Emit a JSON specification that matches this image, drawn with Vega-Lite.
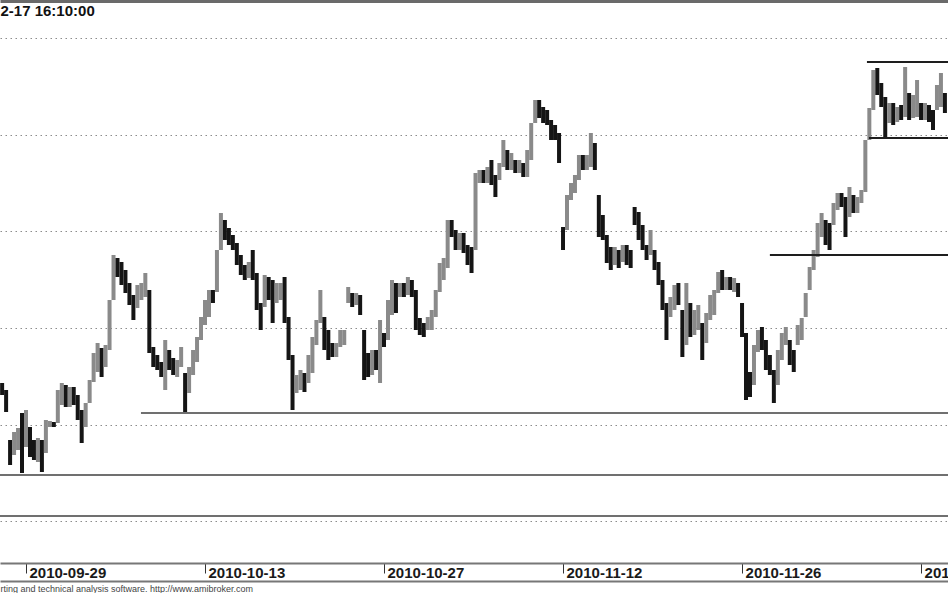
{
  "$schema": "https://vega.github.io/schema/vega-lite/v6.json",
  "width": 948,
  "height": 563,
  "autosize": "none",
  "padding": {"left": 0, "top": 0, "right": 0, "bottom": 30},
  "background": "white",
  "config": {"view": {"stroke": null}, "font": "Liberation Sans"},
  "datasets": {
    "bars": [
      {"n":-12,"o":2628.5,"h":2628.5,"l":2622.5,"c":2622.5},
      {"n":-10,"o":2625,"h":2625,"l":2614,"c":2614},
      {"n":-8,"o":2600,"h":2600,"l":2587.5,"c":2587.5},
      {"n":-6,"o":2592.5,"h":2604,"l":2592.5,"c":2604},
      {"n":-4,"o":2595,"h":2606,"l":2595,"c":2606},
      {"n":-2,"o":2613.5,"h":2613.5,"l":2583.5,"c":2583.5},
      {"n":0,"o":2596.5,"h":2615,"l":2596.5,"c":2615},
      {"n":2,"o":2606.5,"h":2606.5,"l":2591.5,"c":2591.5},
      {"n":4,"o":2600,"h":2600,"l":2590,"c":2590},
      {"n":6,"o":2589,"h":2601,"l":2589,"c":2601},
      {"n":8,"o":2600,"h":2600,"l":2584,"c":2584},
      {"n":10,"o":2593.5,"h":2610,"l":2593.5,"c":2610},
      {"n":12,"o":2606.5,"h":2609.5,"l":2606.5,"c":2609.5},
      {"n":14,"o":2609,"h":2609,"l":2606.5,"c":2606.5},
      {"n":16,"o":2608.5,"h":2625,"l":2608.5,"c":2625},
      {"n":18,"o":2617.5,"h":2628.5,"l":2617.5,"c":2628.5},
      {"n":20,"o":2627.5,"h":2627.5,"l":2616.5,"c":2616.5},
      {"n":22,"o":2616.5,"h":2626.5,"l":2616.5,"c":2626.5},
      {"n":24,"o":2626.5,"h":2626.5,"l":2617.5,"c":2617.5},
      {"n":26,"o":2622.5,"h":2622.5,"l":2610,"c":2610},
      {"n":28,"o":2615,"h":2615,"l":2598.5,"c":2598.5},
      {"n":30,"o":2606.5,"h":2618.5,"l":2606.5,"c":2618.5},
      {"n":32,"o":2618.5,"h":2630,"l":2618.5,"c":2630},
      {"n":34,"o":2629,"h":2643.5,"l":2629,"c":2643.5},
      {"n":36,"o":2634,"h":2648.5,"l":2634,"c":2648.5},
      {"n":38,"o":2646,"h":2646,"l":2631.5,"c":2631.5},
      {"n":40,"o":2636.5,"h":2647.5,"l":2636.5,"c":2647.5},
      {"n":42,"o":2645,"h":2670,"l":2645,"c":2670},
      {"n":44,"o":2670,"h":2692.5,"l":2670,"c":2692.5},
      {"n":46,"o":2691,"h":2691,"l":2681.5,"c":2681.5},
      {"n":48,"o":2689,"h":2689,"l":2677.5,"c":2677.5},
      {"n":50,"o":2685,"h":2685,"l":2673.5,"c":2673.5},
      {"n":52,"o":2678.5,"h":2678.5,"l":2667.5,"c":2667.5},
      {"n":54,"o":2672.5,"h":2672.5,"l":2660,"c":2660},
      {"n":56,"o":2666,"h":2677.5,"l":2666,"c":2677.5},
      {"n":58,"o":2670,"h":2678.5,"l":2670,"c":2678.5},
      {"n":60,"o":2671.5,"h":2683.5,"l":2671.5,"c":2683.5},
      {"n":62,"o":2675,"h":2675,"l":2643.5,"c":2643.5},
      {"n":64,"o":2646.5,"h":2646.5,"l":2636.5,"c":2636.5},
      {"n":66,"o":2642.5,"h":2642.5,"l":2635,"c":2635},
      {"n":68,"o":2639,"h":2639,"l":2631.5,"c":2631.5},
      {"n":70,"o":2625,"h":2650,"l":2625,"c":2650},
      {"n":72,"o":2645,"h":2645,"l":2635,"c":2635},
      {"n":74,"o":2641,"h":2641,"l":2632.5,"c":2632.5},
      {"n":76,"o":2631.5,"h":2640,"l":2631.5,"c":2640},
      {"n":78,"o":2636.5,"h":2646.5,"l":2636.5,"c":2646.5},
      {"n":80,"o":2633.5,"h":2633.5,"l":2613.5,"c":2613.5},
      {"n":82,"o":2623.5,"h":2636.5,"l":2623.5,"c":2636.5},
      {"n":84,"o":2632.5,"h":2645,"l":2632.5,"c":2645},
      {"n":86,"o":2639,"h":2651.5,"l":2639,"c":2651.5},
      {"n":88,"o":2650,"h":2661.5,"l":2650,"c":2661.5},
      {"n":90,"o":2657.5,"h":2670,"l":2657.5,"c":2670},
      {"n":92,"o":2661.5,"h":2675,"l":2661.5,"c":2675},
      {"n":94,"o":2675,"h":2675,"l":2668.5,"c":2668.5},
      {"n":96,"o":2674,"h":2695,"l":2674,"c":2695},
      {"n":98,"o":2695,"h":2713.5,"l":2695,"c":2713.5},
      {"n":100,"o":2710,"h":2710,"l":2700,"c":2700},
      {"n":102,"o":2706,"h":2706,"l":2697.5,"c":2697.5},
      {"n":104,"o":2702.5,"h":2702.5,"l":2695,"c":2695},
      {"n":106,"o":2698.5,"h":2698.5,"l":2687.5,"c":2687.5},
      {"n":108,"o":2692.5,"h":2692.5,"l":2682.5,"c":2682.5},
      {"n":110,"o":2687.5,"h":2687.5,"l":2680,"c":2680},
      {"n":112,"o":2681,"h":2689,"l":2681,"c":2689},
      {"n":114,"o":2695,"h":2695,"l":2680,"c":2680},
      {"n":116,"o":2683.5,"h":2683.5,"l":2665,"c":2665},
      {"n":118,"o":2668.5,"h":2668.5,"l":2655,"c":2655},
      {"n":120,"o":2666.5,"h":2682.5,"l":2666.5,"c":2682.5},
      {"n":122,"o":2681.5,"h":2681.5,"l":2670,"c":2670},
      {"n":124,"o":2680,"h":2680,"l":2658.5,"c":2658.5},
      {"n":126,"o":2668.5,"h":2678.5,"l":2668.5,"c":2678.5},
      {"n":128,"o":2670,"h":2678.5,"l":2670,"c":2678.5},
      {"n":130,"o":2681.5,"h":2681.5,"l":2658.5,"c":2658.5},
      {"n":132,"o":2661.5,"h":2661.5,"l":2640,"c":2640},
      {"n":134,"o":2642.5,"h":2642.5,"l":2615,"c":2615},
      {"n":136,"o":2623.5,"h":2632.5,"l":2623.5,"c":2632.5},
      {"n":138,"o":2625,"h":2635,"l":2625,"c":2635},
      {"n":140,"o":2633.5,"h":2633.5,"l":2624,"c":2624},
      {"n":142,"o":2628.5,"h":2642.5,"l":2628.5,"c":2642.5},
      {"n":144,"o":2633.5,"h":2651.5,"l":2633.5,"c":2651.5},
      {"n":146,"o":2647.5,"h":2660,"l":2647.5,"c":2660},
      {"n":148,"o":2658.5,"h":2675,"l":2658.5,"c":2675},
      {"n":150,"o":2661.5,"h":2661.5,"l":2645,"c":2645},
      {"n":152,"o":2655,"h":2655,"l":2640,"c":2640},
      {"n":154,"o":2648.5,"h":2648.5,"l":2641.5,"c":2641.5},
      {"n":156,"o":2641.5,"h":2648.5,"l":2641.5,"c":2648.5},
      {"n":158,"o":2646.5,"h":2655,"l":2646.5,"c":2655},
      {"n":160,"o":2647.5,"h":2655,"l":2647.5,"c":2655},
      {"n":162,"o":2668.5,"h":2676.5,"l":2668.5,"c":2676.5},
      {"n":164,"o":2673.5,"h":2673.5,"l":2666.5,"c":2666.5},
      {"n":166,"o":2667.5,"h":2673.5,"l":2667.5,"c":2673.5},
      {"n":168,"o":2672.5,"h":2672.5,"l":2662.5,"c":2662.5},
      {"n":170,"o":2655,"h":2655,"l":2630,"c":2630},
      {"n":172,"o":2643.5,"h":2643.5,"l":2631.5,"c":2631.5},
      {"n":174,"o":2632.5,"h":2645,"l":2632.5,"c":2645},
      {"n":176,"o":2645,"h":2645,"l":2635,"c":2635},
      {"n":178,"o":2628.5,"h":2660,"l":2628.5,"c":2660},
      {"n":180,"o":2653.5,"h":2653.5,"l":2646.5,"c":2646.5},
      {"n":182,"o":2650,"h":2670,"l":2650,"c":2670},
      {"n":184,"o":2662.5,"h":2680,"l":2662.5,"c":2680},
      {"n":186,"o":2678.5,"h":2678.5,"l":2663.5,"c":2663.5},
      {"n":188,"o":2671.5,"h":2678.5,"l":2671.5,"c":2678.5},
      {"n":190,"o":2678.5,"h":2678.5,"l":2671.5,"c":2671.5},
      {"n":192,"o":2672.5,"h":2681.5,"l":2672.5,"c":2681.5},
      {"n":194,"o":2680,"h":2680,"l":2671.5,"c":2671.5},
      {"n":196,"o":2675,"h":2675,"l":2655,"c":2655},
      {"n":198,"o":2661,"h":2661,"l":2652.5,"c":2652.5},
      {"n":200,"o":2658.5,"h":2658.5,"l":2651.5,"c":2651.5},
      {"n":202,"o":2655,"h":2661.5,"l":2655,"c":2661.5},
      {"n":204,"o":2655,"h":2665,"l":2655,"c":2665},
      {"n":206,"o":2661.5,"h":2675,"l":2661.5,"c":2675},
      {"n":208,"o":2674,"h":2688.5,"l":2674,"c":2688.5},
      {"n":210,"o":2680,"h":2691,"l":2680,"c":2691},
      {"n":212,"o":2686,"h":2710,"l":2686,"c":2710},
      {"n":214,"o":2710,"h":2710,"l":2701.5,"c":2701.5},
      {"n":216,"o":2705,"h":2705,"l":2695,"c":2695},
      {"n":218,"o":2695,"h":2703.5,"l":2695,"c":2703.5},
      {"n":220,"o":2703.5,"h":2703.5,"l":2693.5,"c":2693.5},
      {"n":222,"o":2697.5,"h":2697.5,"l":2687.5,"c":2687.5},
      {"n":224,"o":2696.5,"h":2696.5,"l":2683.5,"c":2683.5},
      {"n":226,"o":2695,"h":2733.5,"l":2695,"c":2733.5},
      {"n":228,"o":2728.5,"h":2735,"l":2728.5,"c":2735},
      {"n":230,"o":2735,"h":2735,"l":2728.5,"c":2728.5},
      {"n":232,"o":2728.5,"h":2736.5,"l":2728.5,"c":2736.5},
      {"n":234,"o":2740,"h":2740,"l":2727.5,"c":2727.5},
      {"n":236,"o":2732.5,"h":2732.5,"l":2721.5,"c":2721.5},
      {"n":238,"o":2730,"h":2738.5,"l":2730,"c":2738.5},
      {"n":240,"o":2736.5,"h":2750,"l":2736.5,"c":2750},
      {"n":242,"o":2745,"h":2745,"l":2735,"c":2735},
      {"n":244,"o":2735,"h":2743.5,"l":2735,"c":2743.5},
      {"n":246,"o":2740,"h":2740,"l":2733.5,"c":2733.5},
      {"n":248,"o":2733.5,"h":2740,"l":2733.5,"c":2740},
      {"n":250,"o":2738.5,"h":2738.5,"l":2731.5,"c":2731.5},
      {"n":252,"o":2731.5,"h":2745,"l":2731.5,"c":2745},
      {"n":254,"o":2740,"h":2758.5,"l":2740,"c":2758.5},
      {"n":256,"o":2758.5,"h":2770,"l":2758.5,"c":2770},
      {"n":258,"o":2770,"h":2770,"l":2761,"c":2761},
      {"n":260,"o":2766.5,"h":2766.5,"l":2758.5,"c":2758.5},
      {"n":262,"o":2765,"h":2765,"l":2757.5,"c":2757.5},
      {"n":264,"o":2760,"h":2760,"l":2750,"c":2750},
      {"n":266,"o":2757.5,"h":2757.5,"l":2750,"c":2750},
      {"n":268,"o":2753.5,"h":2753.5,"l":2738.5,"c":2738.5},
      {"n":270,"o":2706.5,"h":2706.5,"l":2695,"c":2695},
      {"n":272,"o":2705,"h":2722.5,"l":2705,"c":2722.5},
      {"n":274,"o":2720,"h":2728.5,"l":2720,"c":2728.5},
      {"n":276,"o":2723.5,"h":2732.5,"l":2723.5,"c":2732.5},
      {"n":278,"o":2730,"h":2742.5,"l":2730,"c":2742.5},
      {"n":280,"o":2742.5,"h":2742.5,"l":2735,"c":2735},
      {"n":282,"o":2735,"h":2742.5,"l":2735,"c":2742.5},
      {"n":284,"o":2736.5,"h":2753.5,"l":2736.5,"c":2753.5},
      {"n":286,"o":2748.5,"h":2748.5,"l":2735,"c":2735},
      {"n":288,"o":2722.5,"h":2722.5,"l":2701.5,"c":2701.5},
      {"n":290,"o":2712.5,"h":2712.5,"l":2700,"c":2700},
      {"n":292,"o":2702.5,"h":2702.5,"l":2688.5,"c":2688.5},
      {"n":294,"o":2696.5,"h":2696.5,"l":2685,"c":2685},
      {"n":296,"o":2687.5,"h":2696.5,"l":2687.5,"c":2696.5},
      {"n":298,"o":2695,"h":2695,"l":2686,"c":2686},
      {"n":300,"o":2689,"h":2697.5,"l":2689,"c":2697.5},
      {"n":302,"o":2697.5,"h":2697.5,"l":2687.5,"c":2687.5},
      {"n":304,"o":2695,"h":2695,"l":2686,"c":2686},
      {"n":306,"o":2716.5,"h":2716.5,"l":2707.5,"c":2707.5},
      {"n":308,"o":2714,"h":2714,"l":2700,"c":2700},
      {"n":310,"o":2707.5,"h":2707.5,"l":2695,"c":2695},
      {"n":312,"o":2697.5,"h":2697.5,"l":2690,"c":2690},
      {"n":314,"o":2692.5,"h":2705,"l":2692.5,"c":2705},
      {"n":316,"o":2695,"h":2695,"l":2685,"c":2685},
      {"n":318,"o":2689,"h":2689,"l":2677.5,"c":2677.5},
      {"n":320,"o":2680,"h":2680,"l":2665,"c":2665},
      {"n":322,"o":2668.5,"h":2668.5,"l":2650,"c":2650},
      {"n":324,"o":2661.5,"h":2671.5,"l":2661.5,"c":2671.5},
      {"n":326,"o":2665,"h":2677.5,"l":2665,"c":2677.5},
      {"n":328,"o":2678.5,"h":2678.5,"l":2667.5,"c":2667.5},
      {"n":330,"o":2665,"h":2665,"l":2641.5,"c":2641.5},
      {"n":332,"o":2647.5,"h":2678.5,"l":2647.5,"c":2678.5},
      {"n":334,"o":2668.5,"h":2668.5,"l":2651.5,"c":2651.5},
      {"n":336,"o":2652.5,"h":2665,"l":2652.5,"c":2665},
      {"n":338,"o":2655,"h":2667.5,"l":2655,"c":2667.5},
      {"n":340,"o":2658.5,"h":2658.5,"l":2640,"c":2640},
      {"n":342,"o":2648.5,"h":2663.5,"l":2648.5,"c":2663.5},
      {"n":344,"o":2660,"h":2672.5,"l":2660,"c":2672.5},
      {"n":346,"o":2662.5,"h":2675,"l":2662.5,"c":2675},
      {"n":348,"o":2673.5,"h":2684,"l":2673.5,"c":2684},
      {"n":350,"o":2685,"h":2685,"l":2675,"c":2675},
      {"n":352,"o":2675,"h":2681.5,"l":2675,"c":2681.5},
      {"n":354,"o":2681.5,"h":2681.5,"l":2675,"c":2675},
      {"n":356,"o":2674,"h":2681,"l":2674,"c":2681},
      {"n":358,"o":2678.5,"h":2678.5,"l":2671.5,"c":2671.5},
      {"n":360,"o":2668.5,"h":2668.5,"l":2651.5,"c":2651.5},
      {"n":362,"o":2653.5,"h":2653.5,"l":2620,"c":2620},
      {"n":364,"o":2634,"h":2634,"l":2621.5,"c":2621.5},
      {"n":366,"o":2627.5,"h":2647.5,"l":2627.5,"c":2647.5},
      {"n":368,"o":2644,"h":2655,"l":2644,"c":2655},
      {"n":370,"o":2656.5,"h":2656.5,"l":2645,"c":2645},
      {"n":372,"o":2650,"h":2650,"l":2635,"c":2635},
      {"n":374,"o":2642.5,"h":2642.5,"l":2632.5,"c":2632.5},
      {"n":376,"o":2635,"h":2635,"l":2618.5,"c":2618.5},
      {"n":378,"o":2627.5,"h":2645,"l":2627.5,"c":2645},
      {"n":380,"o":2640,"h":2653.5,"l":2640,"c":2653.5},
      {"n":382,"o":2647.5,"h":2656.5,"l":2647.5,"c":2656.5},
      {"n":384,"o":2650,"h":2650,"l":2637.5,"c":2637.5},
      {"n":386,"o":2645,"h":2645,"l":2634,"c":2634},
      {"n":388,"o":2647.5,"h":2657.5,"l":2647.5,"c":2657.5},
      {"n":390,"o":2650,"h":2661,"l":2650,"c":2661},
      {"n":392,"o":2661.5,"h":2673.5,"l":2661.5,"c":2673.5},
      {"n":394,"o":2675,"h":2686.5,"l":2675,"c":2686.5},
      {"n":396,"o":2685,"h":2695,"l":2685,"c":2695},
      {"n":398,"o":2691.5,"h":2708.5,"l":2691.5,"c":2708.5},
      {"n":400,"o":2701.5,"h":2713.5,"l":2701.5,"c":2713.5},
      {"n":402,"o":2710,"h":2710,"l":2697.5,"c":2697.5},
      {"n":404,"o":2708.5,"h":2708.5,"l":2695,"c":2695},
      {"n":406,"o":2707.5,"h":2718.5,"l":2707.5,"c":2718.5},
      {"n":408,"o":2715,"h":2723.5,"l":2715,"c":2723.5},
      {"n":410,"o":2723.5,"h":2723.5,"l":2716.5,"c":2716.5},
      {"n":412,"o":2721.5,"h":2721.5,"l":2701.5,"c":2701.5},
      {"n":414,"o":2711.5,"h":2726.5,"l":2711.5,"c":2726.5},
      {"n":416,"o":2722.5,"h":2722.5,"l":2713.5,"c":2713.5},
      {"n":418,"o":2713.5,"h":2721.5,"l":2713.5,"c":2721.5},
      {"n":420,"o":2718.5,"h":2725,"l":2718.5,"c":2725},
      {"n":422,"o":2724,"h":2750,"l":2724,"c":2750},
      {"n":424,"o":2750,"h":2766,"l":2750,"c":2766},
      {"n":426,"o":2765,"h":2785,"l":2765,"c":2785},
      {"n":428,"o":2786,"h":2786,"l":2772.5,"c":2772.5},
      {"n":430,"o":2778.5,"h":2778.5,"l":2766.5,"c":2766.5},
      {"n":432,"o":2771.5,"h":2771.5,"l":2751.5,"c":2751.5},
      {"n":434,"o":2758.5,"h":2768.5,"l":2758.5,"c":2768.5},
      {"n":436,"o":2768.5,"h":2768.5,"l":2757.5,"c":2757.5},
      {"n":438,"o":2759,"h":2766.5,"l":2759,"c":2766.5},
      {"n":440,"o":2767.5,"h":2767.5,"l":2760,"c":2760},
      {"n":442,"o":2761.5,"h":2786.5,"l":2761.5,"c":2786.5},
      {"n":444,"o":2773.5,"h":2773.5,"l":2760,"c":2760},
      {"n":446,"o":2761,"h":2772.5,"l":2761,"c":2772.5},
      {"n":448,"o":2761.5,"h":2780,"l":2761.5,"c":2780},
      {"n":450,"o":2768.5,"h":2768.5,"l":2760,"c":2760},
      {"n":452,"o":2760,"h":2768.5,"l":2760,"c":2768.5},
      {"n":454,"o":2767.5,"h":2767.5,"l":2759,"c":2759},
      {"n":456,"o":2765,"h":2765,"l":2755,"c":2755},
      {"n":458,"o":2765,"h":2777.5,"l":2765,"c":2777.5},
      {"n":460,"o":2766.5,"h":2783.5,"l":2766.5,"c":2783.5},
      {"n":462,"o":2773.5,"h":2773.5,"l":2763.5,"c":2763.5}
    ],
    "channel": [
      {"a":422.8,"b":463.55,"p":2789},
      {"a":423.8,"b":463.55,"p":2751},
      {"a":374,"b":463.55,"p":2692.5}
    ],
    "levels": [
      {"a":57.8,"b":463.55,"p":2613.5},
      {"a":-13.07,"b":463.55,"p":2582.5},
      {"a":-13.07,"b":463.55,"p":2562}
    ]
  },
  "layer": [
    {
      "data": {"name": "bars"},
      "mark": {"type": "rule", "strokeWidth": 4},
      "encoding": {
        "x": {
          "field": "n", "type": "quantitative",
          "scale": {"domain": [-13.07, 463.55], "nice": false, "zero": false},
          "axis": {
            "orient": "bottom",
            "values": [0, 90, 180, 270, 360, 450],
            "labelExpr": "datum.value == 0 ? '2010-09-29' : datum.value == 90 ? '2010-10-13' : datum.value == 180 ? '2010-10-27' : datum.value == 270 ? '2010-11-12' : datum.value == 360 ? '2010-11-26' : '2010-12-10'",
            "domainColor": "#777777", "domainWidth": 2,
            "tickColor": "#333333", "tickSize": 10, "tickWidth": 1,
            "labelAlign": "left", "labelBaseline": "top", "labelOffset": 3, "labelPadding": -8,
            "labelFont": "Liberation Sans", "labelFontSize": 15, "labelFontWeight": "bold", "labelColor": "#1a1a1a",
            "labelFlush": false, "labelOverlap": false, "labelBound": false,
            "grid": false, "title": null
          }
        },
        "y": {
          "field": "h", "type": "quantitative",
          "scale": {"domain": [2538.5, 2820], "nice": false, "zero": false},
          "axis": {
            "orient": "left",
            "values": [2801, 2752.7, 2704.3, 2656, 2607.7, 2559.4],
            "grid": true, "gridDash": [1.5, 3.5], "gridColor": "#8c8c8c", "gridWidth": 1,
            "domain": false, "ticks": false, "labels": false, "title": null
          }
        },
        "y2": {"field": "l"},
        "color": {"condition": {"test": "datum.c >= datum.o", "value": "#8a8a8a"}, "value": "#151515"}
      }
    },
    {
      "data": {"name": "channel"},
      "mark": {"type": "rule", "strokeWidth": 2, "color": "#1e1e1e"},
      "encoding": {
        "x": {
          "field": "a", "type": "quantitative",
          "scale": {"domain": [-13.07, 463.55], "nice": false, "zero": false},
          "axis": {
            "orient": "bottom", "offset": 18,
            "labels": false, "ticks": false, "grid": false,
            "domainColor": "#777777", "domainWidth": 2,
            "title": "rting and technical analysis software. http://www.amibroker.com",
            "titleX": 0, "titleY": 3, "titleAlign": "left", "titleAnchor": "start", "titleBaseline": "top",
            "titleFont": "Liberation Sans", "titleFontSize": 9, "titleFontWeight": "normal", "titleColor": "#444444"
          }
        },
        "x2": {"field": "b"},
        "y": {"field": "p", "type": "quantitative", "scale": {"domain": [2538.5, 2820], "nice": false, "zero": false}, "axis": null}
      }
    },
    {
      "data": {"name": "levels"},
      "mark": {"type": "rule", "strokeWidth": 2, "color": "#707070"},
      "encoding": {
        "x": {
          "field": "a", "type": "quantitative",
          "scale": {"domain": [-13.07, 463.55], "nice": false, "zero": false},
          "axis": {
            "orient": "top",
            "labels": false, "ticks": false, "grid": false,
            "domainColor": "#6a6a6a", "domainWidth": 5,
            "title": "2-17 16:10:00",
            "titleX": 0, "titleY": 3, "titleAlign": "left", "titleAnchor": "start", "titleBaseline": "top",
            "titleFont": "Liberation Sans", "titleFontSize": 15, "titleFontWeight": "bold", "titleColor": "#111111"
          }
        },
        "x2": {"field": "b"},
        "y": {"field": "p", "type": "quantitative", "scale": {"domain": [2538.5, 2820], "nice": false, "zero": false}, "axis": null}
      }
    }
  ],
  "resolve": {"axis": {"x": "independent", "y": "independent"}}
}
